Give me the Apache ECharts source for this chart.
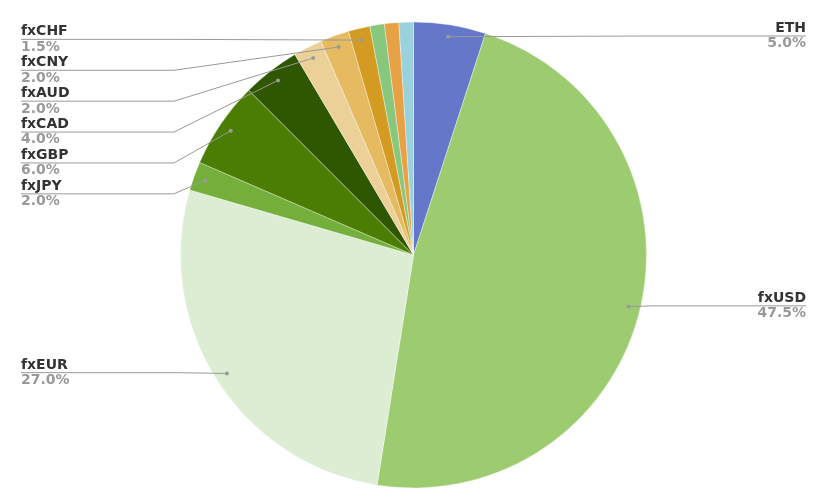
<!DOCTYPE html>
<html>
<head>
<meta charset="utf-8">
<script src="https://cdn.jsdelivr.net/npm/echarts@6/dist/echarts.min.js"></script>
<style>html,body{margin:0;padding:0;background:#fff;}#c{width:827px;height:504px;}</style>
</head>
<body>
<div id="c"></div>
<script>
const categories = ['ETH', 'fxUSD', 'fxEUR', 'fxJPY', 'fxGBP', 'fxCAD', 'fxAUD', 'fxCNY', 'fxCHF', 'fxOther1', 'fxOther2', 'fxOther3'];
const shares = [5.0, 47.5, 27.0, 2.0, 6.0, 4.0, 2.0, 2.0, 1.5, 1.0, 1.0, 1.0];
const labelled = [true, true, true, true, true, true, true, true, true, false, false, false];
const colors = ['#6577c9', '#9dcc70', '#dcedd4', '#74ae3b', '#4b7d02', '#2f5601', '#ebd198', '#e5ba60', '#d49b23', '#88c77e', '#e7a245', '#99d1dc'];

const CX = 413.5, CY = 255, R = 233, DOT_R = 221, EDGE = 21, BEND = 153;

const chart = echarts.init(document.getElementById('c'), null, {renderer: 'canvas'});

const sliceData = categories.map((n, i) => ({name: n, value: shares[i], itemStyle: {color: colors[i]}}));
const labelData = categories.map((n, i) => ({
  name: n, value: shares[i],
  label: {show: labelled[i]},
  labelLine: {show: labelled[i]}
}));
const dotData = categories.map((n, i) => ({name: n, value: shares[i], label: {show: labelled[i]}}));

chart.setOption({
  animation: false,
  series: [{
    type: 'pie',
    center: [CX, CY],
    radius: R,
    startAngle: 90,
    clockwise: true,
    z: 2,
    data: sliceData,
    itemStyle: {borderColor: 'rgba(255,255,255,0.6)', borderWidth: 0.6},
    label: {show: false},
    labelLine: {show: false}
  }, {
    type: 'pie',
    center: [CX, CY],
    radius: R,
    startAngle: 90,
    clockwise: true,
    z: 3,
    silent: true,
    data: labelData,
    itemStyle: {color: 'rgba(0,0,0,0)'},
    label: {
      alignTo: 'edge',
      edgeDistance: EDGE,
      minMargin: 1.4,
      fontFamily: 'DejaVu Sans',
      formatter: function (p) { return '{name|' + p.name + '}\n{per|' + p.value.toFixed(1) + '%}'; },
      rich: {
        name: {fontSize: 14, fontWeight: 'bold', color: '#333', lineHeight: 14, fontFamily: 'DejaVu Sans'},
        per: {fontSize: 14, fontWeight: 'bold', color: '#999', lineHeight: 17, fontFamily: 'DejaVu Sans'}
      }
    },
    labelLine: {showAbove: true, length: DOT_R - R, length2: 10, lineStyle: {color: '#999', width: 1}},
    labelLayout: function (p) {
      const pts = p.labelLinePoints;
      if (!pts) return {};
      const W = chart.getWidth();
      const isLeft = p.labelRect.x < W / 2;
      const y = p.labelRect.y + p.labelRect.height / 2;
      const dx = pts[0][0] - CX, dy = pts[0][1] - CY;
      const d = Math.hypot(dx, dy) || 1;
      const start = [CX + dx * DOT_R / d, CY + dy * DOT_R / d];
      const edgeX = isLeft ? p.labelRect.x : p.labelRect.x + p.labelRect.width;
      const bendX = isLeft ? EDGE + BEND : W - EDGE - BEND;
      return {labelLinePoints: [start, [bendX, y], [edgeX, y]]};
    }
  }, {
    type: 'pie',
    center: [CX, CY],
    radius: [DOT_R - 4, DOT_R - 2],
    startAngle: 90,
    clockwise: true,
    silent: true,
    z: 5,
    data: dotData,
    itemStyle: {color: 'rgba(0,0,0,0)'},
    labelLine: {show: false},
    label: {
      position: 'inside',
      rotate: 0,
      formatter: ' ',
      width: 4, height: 4,
      backgroundColor: '#9a9a9a',
      borderRadius: 2,
      fontSize: 1,
      lineHeight: 4
    }
  }]
});
</script>
</body>
</html>
